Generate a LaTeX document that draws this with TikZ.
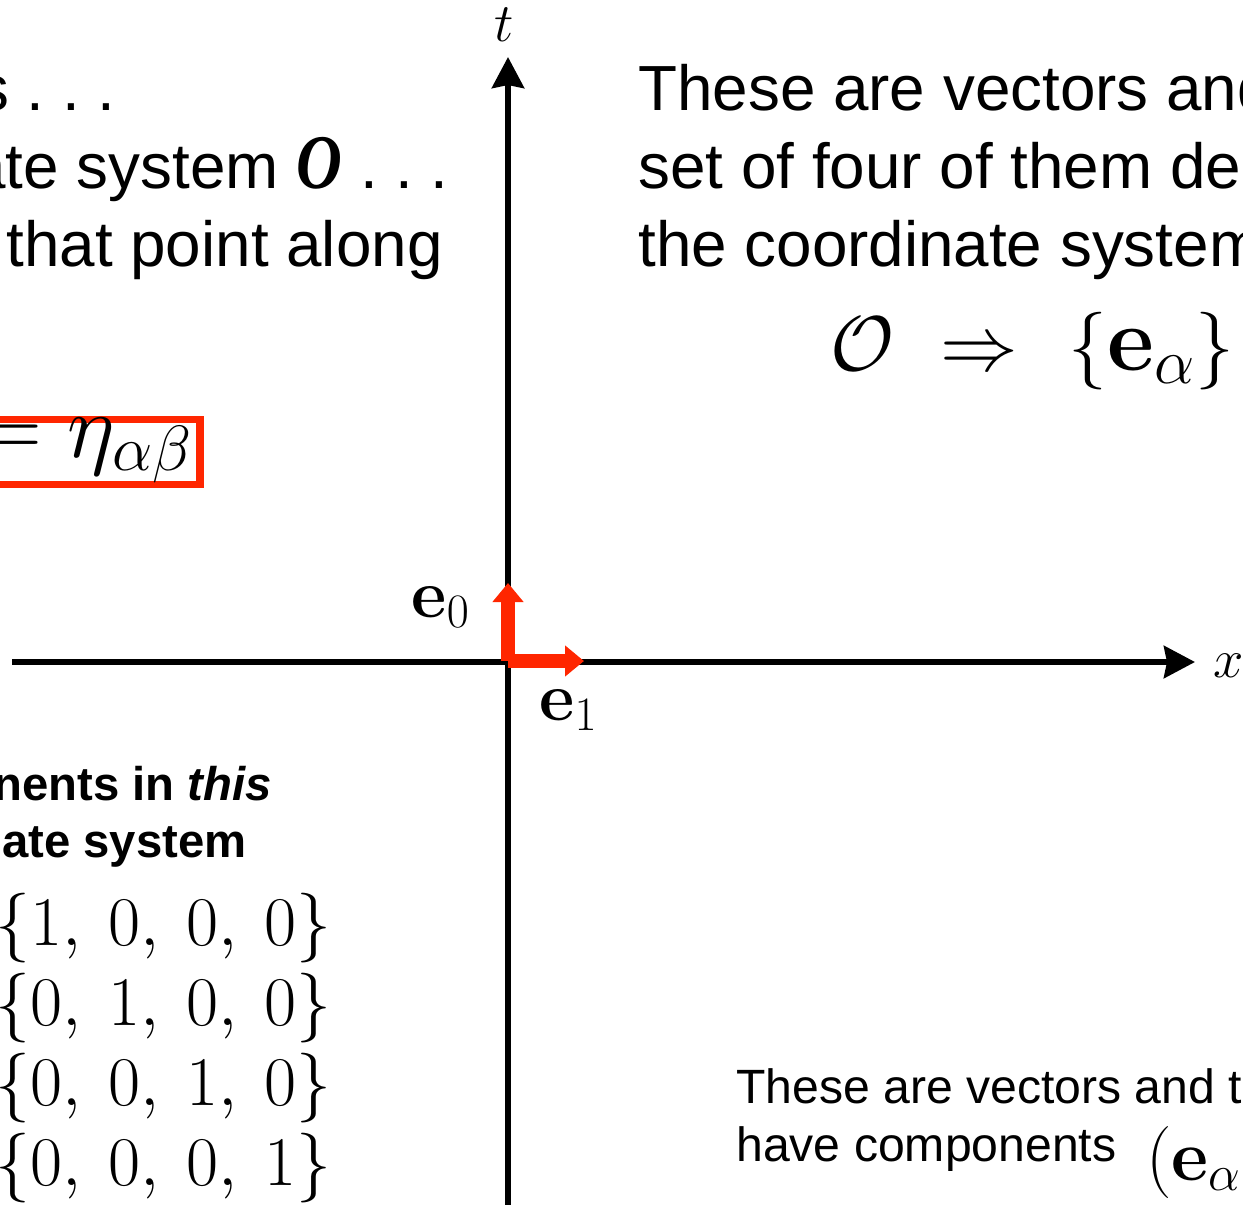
\documentclass[tikz,border=0pt]{standalone}
\usepackage{fix-cm}
\usepackage[no-math]{fontspec}
\setmainfont{Liberation Sans}
\newfontfamily\serifbold{Liberation Serif}
\usetikzlibrary{arrows.meta}
\definecolor{slidered}{RGB}{255,38,0}
\frenchspacing
\begin{document}
\begin{tikzpicture}[x=0.02cm,y=-0.02cm,line cap=butt,line join=miter,
  slidetxt/.style={inner sep=0pt,font=\fontsize{36.3}{44}\selectfont},
  notetxt/.style={inner sep=0pt,font=\fontsize{27.4}{33}\selectfont},
  listtxt/.style={inner sep=0pt,font=\fontsize{39.7}{45}\selectfont},
  axisline/.style={line width=3.4pt,-{Stealth[length=0.62cm,width=0.64cm,inset=0.06cm]}},
  basisvec/.style={slidered,line width=8pt,-{Triangle[length=0.38cm,width=0.6cm]}}]
\useasboundingbox (0,0) rectangle (1243,1204);
\clip (0,0) rectangle (1243,1204);
% axes
\coordinate (tBot) at (508,1215);\coordinate (tTop) at (508,57);\coordinate (xL) at (12,662);\coordinate (xR) at (1195,662);
\draw[axisline] (tBot) -- (tTop);\draw[axisline] (xL) -- (xR);
\node[inner sep=0pt,font=\fontsize{31}{31}\selectfont] (tlab) at (504,25) {$t$};
\node[inner sep=0pt,font=\fontsize{31}{31}\selectfont] (xlab) at (1229,666) {$x$};
% basis vectors
\coordinate (orig) at (508,661);\coordinate (e0tip) at (508,583);\coordinate (e1tip) at (584,661);
\draw[basisvec] (orig) -- (e0tip);\draw[basisvec] (orig) -- (e1tip);
\node[inner sep=0pt,anchor=base east,font=\fontsize{39}{39}\selectfont] (e0lab) at (470,617) {$\mathbf{e}_0$};
\node[inner sep=0pt,anchor=base west,font=\fontsize{39}{39}\selectfont] (e1lab) at (539,720) {$\mathbf{e}_1$};
% left text
\node[slidetxt,anchor=base east] (introA) at (116,110) {s . . .};
\node[slidetxt,anchor=base east] (introB) at (449,188) {ate system {\serifbold\bfseries\itshape\fontsize{44}{44}\selectfont\scalebox{0.82}[1]{O}} . . .};
\node[slidetxt,anchor=base east] (introC) at (443,266) {that point along};
\node[draw=slidered,line width=4pt,inner xsep=4.5pt,inner ysep=0pt,text height=21.3pt,text depth=15.9pt,anchor=base east,font=\fontsize{52}{52}\selectfont] (metric) at (203.5,457) {$=\eta_{\alpha\beta}$};
% right text
\node[slidetxt,anchor=base west] (defA) at (638,110) {These are vectors and};
\node[slidetxt,anchor=base west] (defB) at (638,188) {set of four of them de};
\node[slidetxt,anchor=base west] (defC) at (638,266) {the coordinate system};
\node[inner sep=0pt,anchor=base west,font=\fontsize{44.2}{45}\selectfont] (calO) at (830,370) {$\mathcal{O}$};
\node[inner sep=0pt,anchor=base west,font=\fontsize{44.2}{45}\selectfont] (impl) at (940,370) {$\Rightarrow$};
\node[inner sep=0pt,anchor=base west,font=\fontsize{44.2}{45}\selectfont] (frame) at (1068,370) {$\{\mbox{\fontsize{52}{52}\selectfont$\mathbf{e}_\alpha$}\}$};
% components
\node[notetxt,font=\fontsize{26.9}{33}\selectfont\bfseries,anchor=base east] (compA) at (272,800) {nents in \textit{this}};
\node[notetxt,font=\fontsize{26.9}{33}\selectfont\bfseries,anchor=base east] (compB) at (247,857) {ate system};
\node[listtxt,anchor=base west] (row0) at (-5,945) {$\{1,\mkern4mu 0,\mkern4mu 0,\mkern4mu 0\}$};
\node[listtxt,anchor=base west] (row1) at (-5,1025) {$\{0,\mkern4mu 1,\mkern4mu 0,\mkern4mu 0\}$};
\node[listtxt,anchor=base west] (row2) at (-5,1105) {$\{0,\mkern4mu 0,\mkern4mu 1,\mkern4mu 0\}$};
\node[listtxt,anchor=base west] (row3) at (-5,1185) {$\{0,\mkern4mu 0,\mkern4mu 0,\mkern4mu 1\}$};
\node[notetxt,anchor=base west] (noteA) at (736,1103) {These are vectors and t};
\node[notetxt,anchor=base west] (noteB) at (736,1161) {have components};
\node[inner sep=0pt,anchor=base west,font=\fontsize{41}{41}\selectfont] (noteC) at (1146,1180) {$(\mathbf{e}_\alpha$};
\end{tikzpicture}
\end{document}
